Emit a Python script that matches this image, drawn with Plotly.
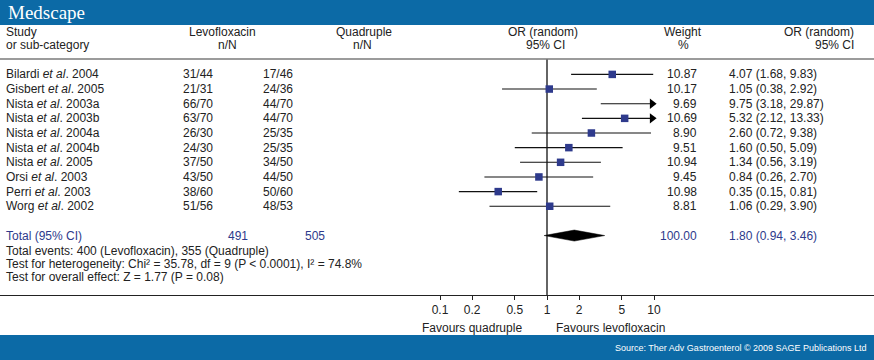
import math
import plotly.graph_objects as go

# ---------------- data ----------------
study_author = ["Bilardi", "Gisbert", "Nista", "Nista", "Nista", "Nista", "Nista", "Orsi", "Perri", "Worg"]
study_year = ["2004", "2005", "2003a", "2003b", "2004a", "2004b", "2005", "2003", "2003", "2002"]
levo_n = [31, 21, 66, 63, 26, 24, 37, 43, 38, 51]
levo_N = [44, 31, 70, 70, 30, 30, 50, 50, 60, 56]
quad_n = [17, 24, 44, 44, 25, 25, 34, 44, 50, 48]
quad_N = [46, 36, 70, 70, 35, 35, 50, 50, 60, 53]
weight = [10.87, 10.17, 9.69, 10.69, 8.90, 9.51, 10.94, 9.45, 10.98, 8.81]
odds = [4.07, 1.05, 9.75, 5.32, 2.60, 1.60, 1.34, 0.84, 0.35, 1.06]
ci_lo = [1.68, 0.38, 3.18, 2.12, 0.72, 0.50, 0.56, 0.26, 0.15, 0.29]
ci_hi = [9.83, 2.92, 29.87, 13.33, 9.38, 5.09, 3.19, 2.70, 0.81, 3.90]

total_levo_N = 491
total_quad_N = 505
total_weight = 100.00
total_or = 1.80
total_lo = 0.94
total_hi = 3.46
events_levo = 400
events_quad = 355
chi2 = 35.78
df = 9
i2 = 74.8
z = 1.77
p_overall = 0.08

tick_vals = [0.1, 0.2, 0.5, 1, 2, 5, 10]
tick_text = ["0.1", "0.2", "0.5", "1", "2", "5", "10"]

# ---------------- layout constants ----------------
W, H = 874, 360
X_ONE_PX = 547.0      # pixel of OR = 1
DECADE_PX = 107.0     # pixels per decade
AXIS_MAX = 10
ROW0 = 74.4
ROW_DY = 14.65
AXIS_Y = 295
HEADER_LINE_Y = 59
BLUE = "#0c6aa6"
NAVY = "#2e3a8c"
TXT = "#222222"
FONT = "Liberation Sans, Arial, sans-serif"
FS = 12


def px(x):
    return x / W


def py(y):
    return 1 - y / H


fig = go.Figure()

rows_y = [ROW0 + i * ROW_DY for i in range(len(odds))]
total_y = ROW0 + len(odds) * ROW_DY + ROW_DY

# vertical line of no effect
fig.add_trace(go.Scatter(x=[1, 1], y=[HEADER_LINE_Y, AXIS_Y], mode="lines",
                         line=dict(color="#111", width=1.3), hoverinfo="skip"))

# CI lines
for i in range(len(odds)):
    hi = min(ci_hi[i], AXIS_MAX)
    fig.add_trace(go.Scatter(x=[ci_lo[i], hi], y=[rows_y[i], rows_y[i]], mode="lines",
                             line=dict(color="#111", width=1.1), hoverinfo="skip"))

# squares (hidden when under the clipping arrow)
keep = [not (h > AXIS_MAX and o > 0.9 * AXIS_MAX) for o, h in zip(odds, ci_hi)]
sq_x = [o for o, k in zip(odds, keep) if k]
sq_y = [y for y, k in zip(rows_y, keep) if k]
fig.add_trace(go.Scatter(x=sq_x, y=sq_y, mode="markers",
                         marker=dict(symbol="square", size=7.5, color=NAVY,
                                     line=dict(width=0)), hoverinfo="skip"))

# arrows for clipped CIs
ar_y = [y for h, y in zip(ci_hi, rows_y) if h > AXIS_MAX]
fig.add_trace(go.Scatter(x=[AXIS_MAX * 0.96] * len(ar_y), y=ar_y, mode="markers",
                         marker=dict(symbol="triangle-right", size=9, color="#000",
                                     line=dict(width=0)), hoverinfo="skip"))

# diamond for the pooled estimate
dh = 5.5
fig.add_trace(go.Scatter(x=[total_lo, total_or, total_hi, total_or, total_lo],
                         y=[total_y, total_y - dh, total_y, total_y + dh, total_y],
                         mode="lines", fill="toself", fillcolor="#000",
                         line=dict(color="#000", width=0.5), hoverinfo="skip"))

shapes = [
    dict(type="rect", xref="paper", yref="paper", x0=0, x1=1, y0=py(25), y1=1,
         fillcolor=BLUE, line=dict(width=0), layer="below"),
    dict(type="rect", xref="paper", yref="paper", x0=0, x1=1, y0=0, y1=py(335),
         fillcolor=BLUE, line=dict(width=0), layer="below"),
    dict(type="line", xref="paper", yref="paper", x0=0, x1=1, y0=py(HEADER_LINE_Y), y1=py(HEADER_LINE_Y),
         line=dict(color="#7a7a7a", width=1.5)),
]

ann = []


def text(x, y, s, anchor="left", color=TXT, size=FS, family=FONT):
    ann.append(dict(x=px(x), y=py(y), xref="paper", yref="paper", text=s, showarrow=False,
                    xanchor=anchor, yanchor="middle", font=dict(family=family, size=size, color=color)))


# banner texts
text(6, 13, "Medscape", color="white", size=19, family="Liberation Serif, Times New Roman, serif")
text(869, 348, "Source: Ther Adv Gastroenterol © 2009 SAGE Publications Ltd", anchor="right",
     color="white", size=9)

# headers
text(4, 32, "Study")
text(4, 45, "or sub-category")
text(222, 32, "Levofloxacin", "center")
text(227, 45, "n/N", "center")
text(364, 32, "Quadruple", "center")
text(362, 45, "n/N", "center")
text(543, 32, "OR (random)", "center")
text(545, 45, "95% CI", "center")
text(683, 32, "Weight", "center")
text(683, 45, "%", "center")
text(856, 32, "OR (random)", "right")
text(856, 45, "95% CI", "right")

# study rows
for i in range(len(odds)):
    y = rows_y[i]
    text(4, y, f"{study_author[i]} <i>et al</i>. {study_year[i]}")
    text(198, y, f"{levo_n[i]}/{levo_N[i]}", "center")
    text(278, y, f"{quad_n[i]}/{quad_N[i]}", "center")
    text(699, y, f"{weight[i]:.2f}", "right")
    text(727, y, f"{odds[i]:.2f} ({ci_lo[i]:.2f}, {ci_hi[i]:.2f})")

# total rows
text(4, total_y, "Total (95% CI)", color=NAVY)
text(238, total_y, f"{total_levo_N}", "center", color=NAVY)
text(315, total_y, f"{total_quad_N}", "center", color=NAVY)
text(699, total_y, f"{total_weight:.2f}", "right", color=NAVY)
text(727, total_y, f"{total_or:.2f} ({total_lo:.2f}, {total_hi:.2f})", color=NAVY)
text(4, 250.5, f"Total events: {events_levo} (Levofloxacin), {events_quad} (Quadruple)")
text(4, 263.5, f"Test for heterogeneity: Chi² = {chi2:.2f}, df = {df} (P < 0.0001), I² = {i2}%")
text(4, 277, f"Test for overall effect: Z = {z:.2f} (P = {p_overall:.2f})")

# favours labels
text(472, 328, "Favours quadruple", "center")
text(554, 328, "Favours levofloxacin")

fig.update_layout(
    width=W, height=H,
    margin=dict(l=0, r=0, t=0, b=0, pad=0),
    paper_bgcolor="white", plot_bgcolor="rgba(0,0,0,0)",
    showlegend=False,
    shapes=shapes, annotations=ann,
    xaxis=dict(type="log", range=[(0 - X_ONE_PX) / DECADE_PX, (W - X_ONE_PX) / DECADE_PX],
               anchor="free", position=py(AXIS_Y), showline=True, linecolor="#222", linewidth=1,
               ticks="outside", ticklen=4, tickcolor="#222", tickwidth=1,
               tickvals=tick_vals, ticktext=tick_text,
               tickfont=dict(family=FONT, size=FS, color=TXT),
               showgrid=False, zeroline=False, automargin=False, fixedrange=True),
    yaxis=dict(range=[H, 0], domain=[0, 1], visible=False, showgrid=False,
               zeroline=False, fixedrange=True),
)

fig.write_html("out.html", config={"displayModeBar": False},
               post_script="document.body.style.margin='0';document.body.style.padding='0';")
